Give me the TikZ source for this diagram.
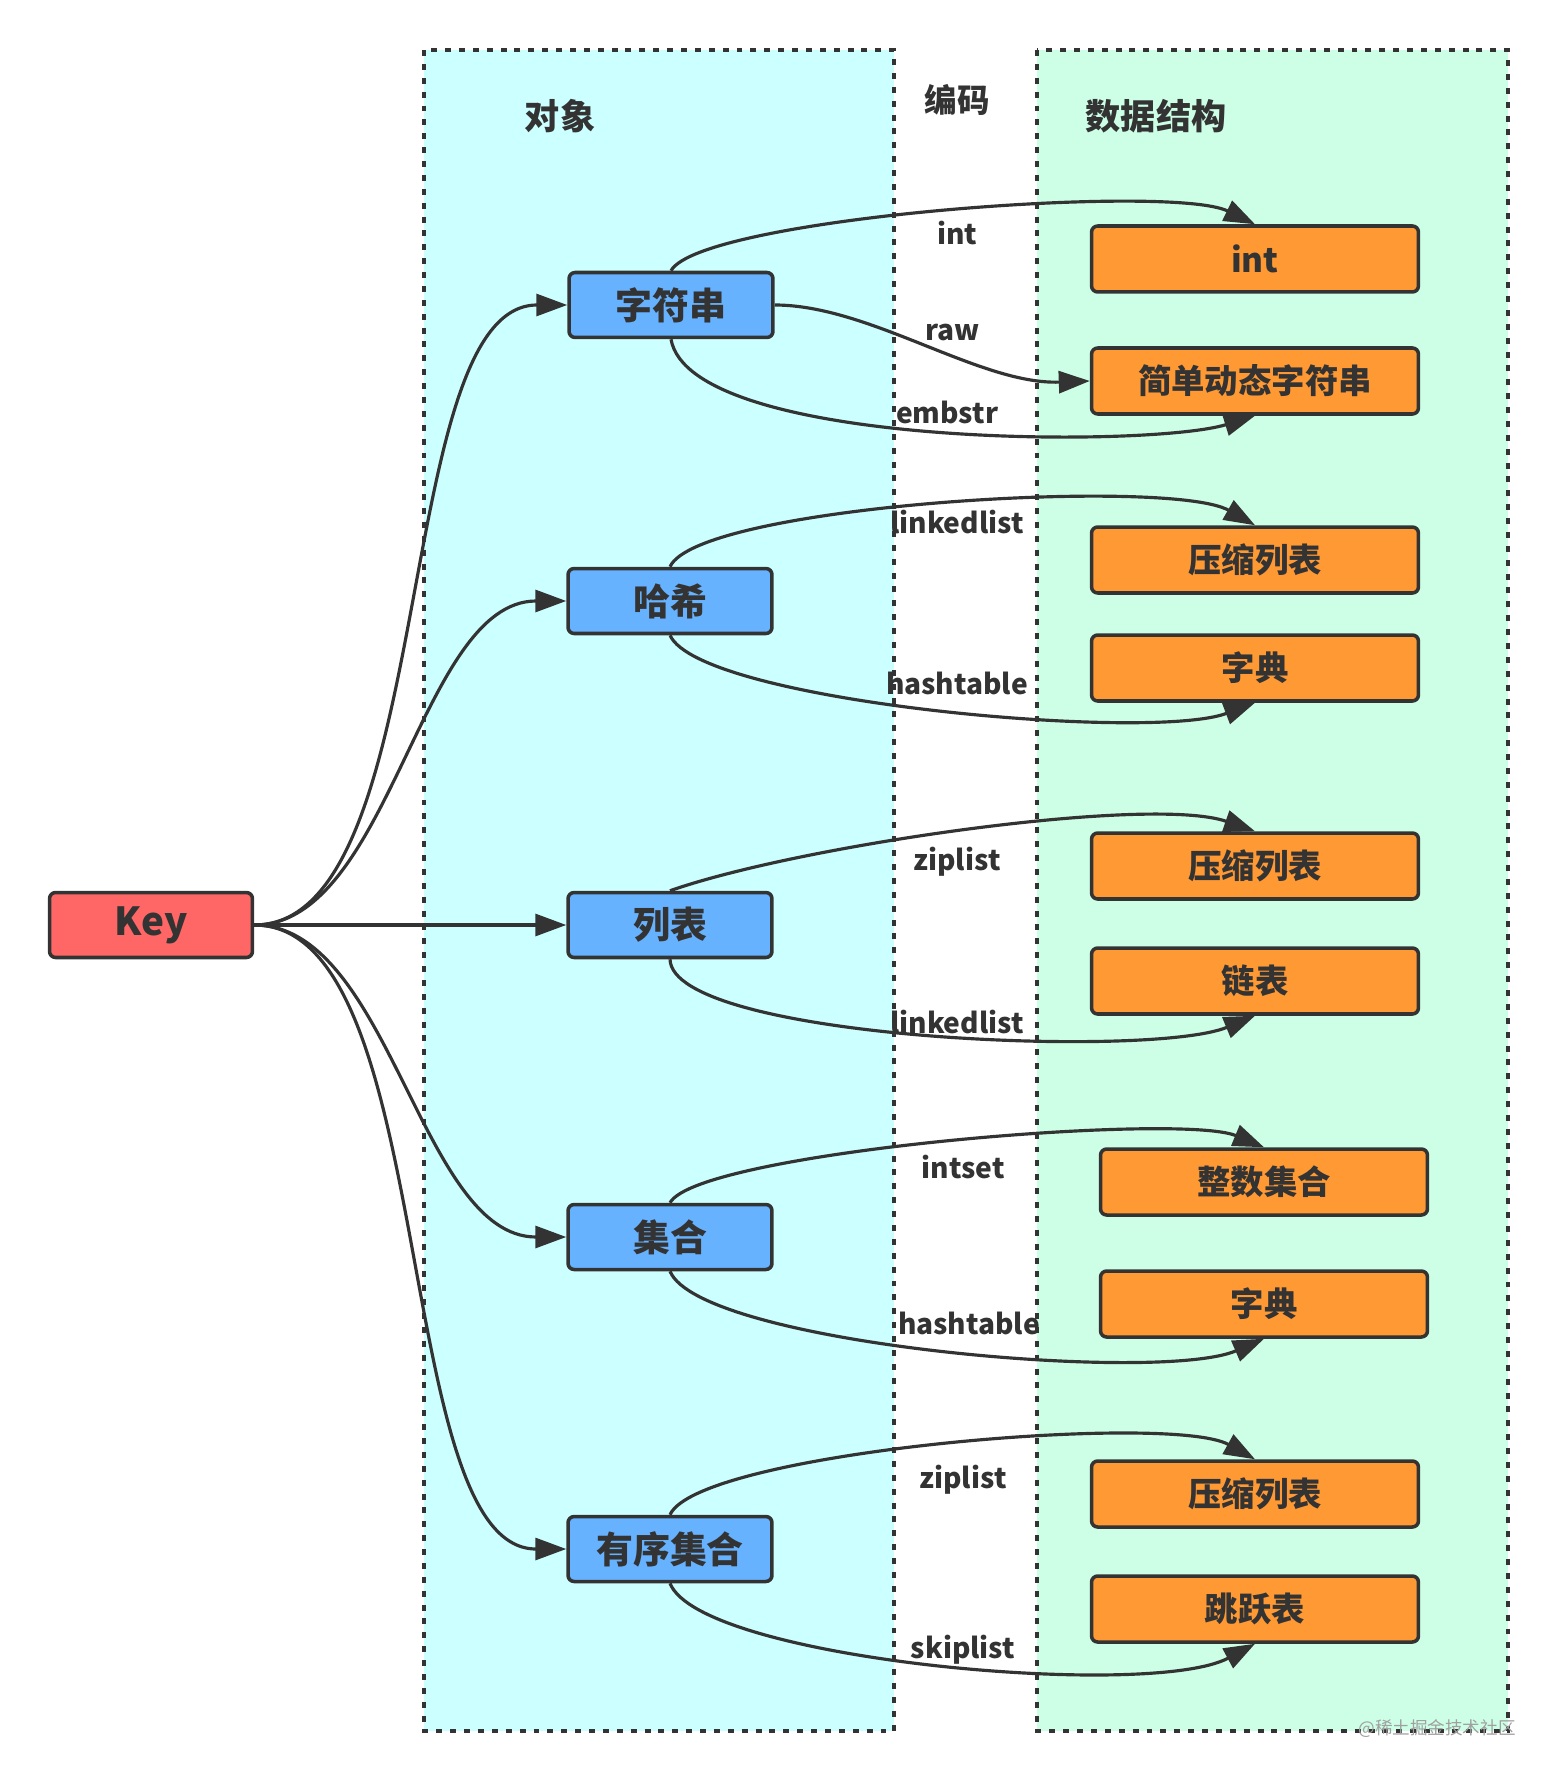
\documentclass[tikz,border=0pt]{standalone}
\usepackage{fontspec}
\setmainfont{Noto Sans CJK SC}
\usetikzlibrary{arrows.meta}
\definecolor{ink}{HTML}{333333}
\definecolor{objbg}{HTML}{CCFFFF}
\definecolor{dsbg}{HTML}{CCFFE6}
\definecolor{keyred}{HTML}{FF6666}
\definecolor{objblue}{HTML}{66B2FF}
\definecolor{dsorange}{HTML}{FF9933}
\definecolor{wm}{HTML}{A0A0A0}
\tikzset{
  boxbase/.style={draw=ink, line width=2pt, rounded corners=3.5pt, text=ink, inner sep=0pt},
  keynode/.style={boxbase, fill=keyred, minimum width=4.06cm, minimum height=1.3cm, font=\bfseries\fontsize{22}{22}\selectfont},
  obj/.style={boxbase, fill=objblue, minimum width=4.08cm, minimum height=1.3cm, font=\bfseries\fontsize{21}{21}\selectfont},
  ds/.style={boxbase, fill=dsorange, minimum width=6.54cm, minimum height=1.32cm, font=\bfseries\fontsize{19}{19}\selectfont},
  lbl/.style={text=ink, inner sep=0pt, font=\bfseries\fontsize{16}{16}\selectfont},
  ttl/.style={text=ink, inner sep=0pt, font=\bfseries\fontsize{20}{20}\selectfont},
  conn/.style={draw=ink, line width=1.8pt, -{Triangle[length=0.62cm,width=0.44cm]}},
  zone/.style={draw=ink, line width=2.2pt, dash pattern=on 3.4pt off 4.5pt}
}
\begin{document}
\begin{tikzpicture}[x=0.02cm,y=-0.02cm]
\useasboundingbox (0,0) rectangle (1558,1780);
\fill[white] (0,0) rectangle (1558,1780);
% zones
\draw[zone, fill=objbg] (424,50) rectangle (894,1731);
\draw[zone, fill=dsbg] (1037,50) rectangle (1508,1731);
% titles
\node[ttl] (tobj) at (560,116) {对象};
\node[ttl, font=\bfseries\fontsize{18.5}{18.5}\selectfont] (tenc) at (957,100) {编码};
\node[ttl] (tds) at (1156,116) {数据结构};
% nodes
\node[keynode] (key) at (151,925) {Key};
\node[obj] (str) at (671,305) {字符串};
\node[obj] (hash) at (670,601) {哈希};
\node[obj] (list) at (670,925) {列表};
\node[obj] (set) at (670,1237) {集合};
\node[obj] (zset) at (670,1549) {有序集合};
\node[ds] (int) at (1255,259) {int};
\node[ds] (sds) at (1255,381) {简单动态字符串};
\node[ds] (zl1) at (1255,560) {压缩列表};
\node[ds] (dict1) at (1255,668) {字典};
\node[ds] (zl2) at (1255,866) {压缩列表};
\node[ds] (ll) at (1255,981) {链表};
\node[ds] (iset) at (1264,1182) {整数集合};
\node[ds] (dict2) at (1264,1304) {字典};
\node[ds] (zl3) at (1255,1494) {压缩列表};
\node[ds] (skl) at (1255,1609) {跳跃表};
% key edges
\draw[conn] (key.east) .. controls (440,925) and (390,305) .. (str.west);
\draw[conn] (key.east) .. controls (390,925) and (420,601) .. (hash.west);
\draw[conn] (key.east) -- (list.west);
\draw[conn] (key.east) .. controls (390,925) and (420,1237) .. (set.west);
\draw[conn] (key.east) .. controls (440,925) and (390,1549) .. (zset.west);
% encoding edges
\draw[conn] (str.north) .. controls (700,218) and (1170,183) .. (int.north);
\draw[conn] (str.east) .. controls (870,305) and (980,385) .. (sds.west);
\draw[conn] (str.south) .. controls (690,448) and (1150,448) .. (sds.south);
\draw[conn] (hash.north) .. controls (698,505) and (1170,477) .. (zl1.north);
\draw[conn] (hash.south) .. controls (700,702) and (1150,742) .. (dict1.south);
\draw[conn] (list.north) .. controls (800,845) and (1150,795) .. (zl2.north);
\draw[conn] (list.south) .. controls (672,1039) and (1150,1059) .. (ll.south);
\draw[conn] (set.north) .. controls (698,1152) and (1179,1112) .. (iset.north);
\draw[conn] (set.south) .. controls (700,1344) and (1159,1384) .. (dict2.south);
\draw[conn] (zset.north) .. controls (698,1452) and (1170,1412) .. (zl3.north);
\draw[conn] (zset.south) .. controls (700,1660) and (1150,1700) .. (skl.south);
% labels
\node[lbl] (l1) at (957,233) {int};
\node[lbl] (l2) at (953,333) {raw};
\node[lbl] (l3) at (947,412) {embstr};
\node[lbl] (l4) at (957,522) {linkedlist};
\node[lbl] (l5) at (957,683) {hashtable};
\node[lbl] (l6) at (957,862) {ziplist};
\node[lbl] (l7) at (957,1022) {linkedlist};
\node[lbl] (l8) at (963,1167) {intset};
\node[lbl] (l9) at (969,1323) {hashtable};
\node[lbl] (l10) at (963,1480) {ziplist};
\node[lbl] (l11) at (963,1650) {skiplist};
% watermark
\node[text=wm, inner sep=0pt, font=\fontsize{10}{10}\selectfont] (wmk) at (1437,1729) {@稀土掘金技术社区};
\end{tikzpicture}
\end{document}
